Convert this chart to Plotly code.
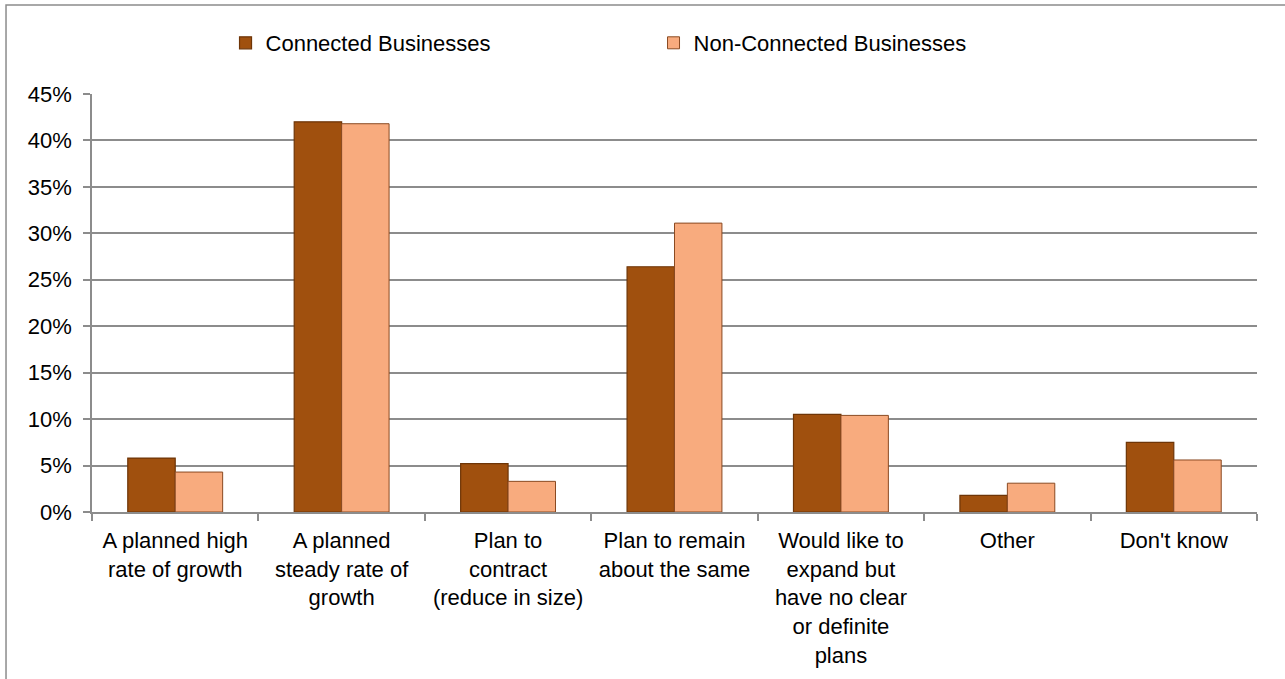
import plotly.graph_objects as go

categories = [
    "A planned high<br>rate of growth",
    "A planned<br>steady rate of<br>growth",
    "Plan to<br>contract<br>(reduce in size)",
    "Plan to remain<br>about the same",
    "Would like to<br>expand but<br>have no clear<br>or definite<br>plans",
    "Other",
    "Don't know",
]
connected = [5.8, 42.0, 5.2, 26.4, 10.5, 1.8, 7.5]
non_connected = [4.3, 41.8, 3.3, 31.1, 10.4, 3.1, 5.6]

FONT = "Liberation Sans, Arial, sans-serif"
GRID = "#8c8c8c"
FS = 22

fig = go.Figure()
fig.add_trace(go.Bar(
    name="Connected Businesses", x=categories, y=connected,
    marker=dict(color="#a0500e", line=dict(color="#6e3507", width=1.2)),
))
fig.add_trace(go.Bar(
    name="Non-Connected Businesses", x=categories, y=non_connected,
    marker=dict(color="#f8ab7e", line=dict(color="#8a4a22", width=1)),
))

fig.update_layout(
    width=1285, height=679,
    margin=dict(l=92, r=28, t=94, b=167, autoexpand=False),
    paper_bgcolor="white", plot_bgcolor="white",
    barmode="group", bargap=0.43, bargroupgap=0,
    font=dict(family=FONT, size=FS, color="#000"),
    legend=dict(
        orientation="h", x=0.482, xanchor="center", y=1.122, yanchor="middle",
        font=dict(size=FS), entrywidth=383, itemwidth=30,
        traceorder="normal", bgcolor="rgba(0,0,0,0)",
    ),
    xaxis=dict(
        type="category", tickson="boundaries", ticks="outside", ticklen=7,
        tickcolor=GRID, tickwidth=1.5, showline=True, linecolor=GRID, linewidth=1.5,
        showgrid=False, tickfont=dict(size=FS), ticklabelstandoff=8,
    ),
    yaxis=dict(
        range=[0, 45], dtick=5, ticksuffix="%", ticks="outside", ticklen=7,
        tickcolor=GRID, tickwidth=1.5, showline=True, linecolor=GRID, linewidth=1.5,
        showgrid=True, gridcolor=GRID, gridwidth=1.5, zeroline=False,
        tickfont=dict(size=FS), ticklabelstandoff=7,
    ),
    shapes=[dict(
        type="rect", xref="paper", yref="paper",
        x0=-0.0738, x1=1.03, y0=-0.42, y1=1.213,
        line=dict(color="#8c8c8c", width=1.5), fillcolor="rgba(0,0,0,0)",
        layer="below",
    )],
)

fig.write_html("out.html")
